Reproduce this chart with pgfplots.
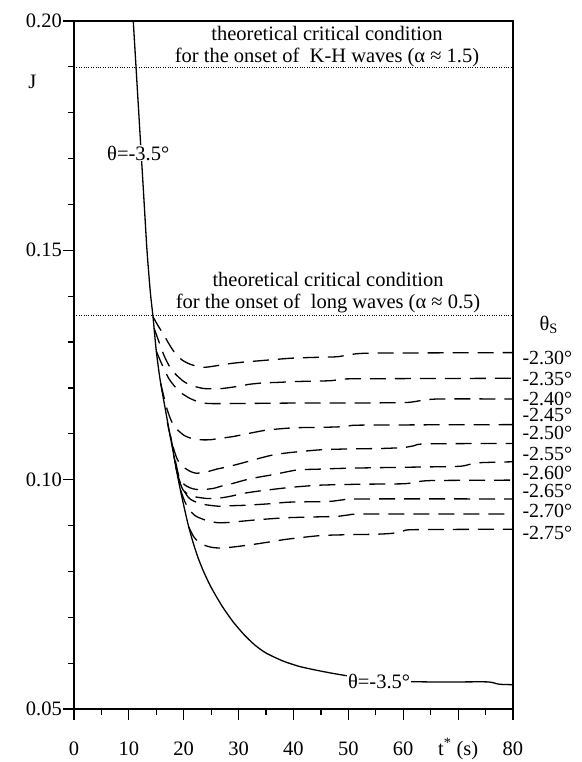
\documentclass[border=0pt]{standalone}
\usepackage{fontspec}
\setmainfont{Liberation Serif}
\usepackage{pgfplots}
\pgfplotsset{compat=1.18}
\tikzset{lbl/.style={anchor=west, inner sep=0pt, text height=13bp, text depth=0bp, font=\fontsize{20bp}{22bp}\selectfont}}
\begin{document}
\begin{tikzpicture}[font=\fontsize{20.5bp}{22bp}\selectfont]
\begin{axis}[
  at={(0,0)}, anchor=south west,
  scale only axis, width=439bp, height=688bp,
  xmin=0, xmax=80, ymin=0.05, ymax=0.20,
  xtick={0,10,...,80},
  xticklabels={0,10,20,30,40,50,60,{t\textsuperscript{*} (s)},80},
  minor xtick={5,15,...,75},
  ytick={0.05,0.10,0.15,0.20},
  yticklabels={0.05,0.10,0.15,0.20},
  minor ytick={0.06,0.07,0.08,0.09,0.11,0.12,0.13,0.14,0.16,0.17,0.18,0.19},
  tick pos=left, tick align=outside,
  major tick length=11bp, minor tick length=6bp,
  every tick/.style={black, line width=1.2bp},
  axis line style={line width=1.3bp},
  xticklabel style={text height=14bp, text depth=4bp, inner sep=0pt, yshift=-21bp},
  yticklabel style={inner sep=1bp},
  clip=false,
]
% critical condition lines
\addplot[black, line width=0.9bp, dash pattern=on 1bp off 1.4bp] coordinates {(0,0.1899) (80,0.1899)};
\addplot[black, line width=0.9bp, dash pattern=on 1bp off 1.4bp] coordinates {(0,0.1357) (80,0.1357)};
% solid curve theta = -3.5
\addplot[black, line width=1.3bp, smooth, tension=0.4] coordinates {
(10.8,0.200)(11.3,0.190)(11.8,0.180)(12.3,0.170)(12.8,0.160)(13.3,0.150)(13.9,0.1410)(14.4,0.1355)
(15.0,0.1280)(15.7,0.1217)(16.5,0.1163)(17.3,0.1110)(18.2,0.1052)(19.0,0.1000)(19.9,0.0949)
(20.8,0.0902)(21.7,0.0863)(22.6,0.0830)(23.6,0.0800)(25.0,0.0765)(27,0.0724)(29,0.0690)(31,0.0662)(33,0.0639)(35,0.0622)
(38,0.0605)(41,0.0593)(44,0.0585)(47,0.0578)(50,0.0572)(53,0.0567)(56,0.0563)(60,0.0560)
(65,0.0559)(70,0.0559)(75.5,0.0559)(77.5,0.0554)(80,0.0553)};
% dashed curves theta_s
\pgfplotsset{dsh/.style={black, line width=1.3bp, dash pattern=on 16bp off 9bp, smooth, tension=0.4}}
\addplot[dsh] coordinates {(14.4,0.1355)(15.3,0.1336)(16.3,0.1317)(17.5,0.1292)(18.6,0.1273)(19.8,0.1260)(21.1,0.1252)(22.5,0.1247)(23.9,0.1245)(26.3,0.1249)(28.4,0.1253)(31.4,0.1257)(33.6,0.1259)(36.6,0.1262)(39.9,0.1265)(45,0.1267)(48,0.1268)(50,0.1272)(52,0.1275)(56,0.1276)(80,0.1277)};
\addplot[dsh] coordinates {(14.6,0.1330)(15.5,0.1300)(16.5,0.1268)(17.5,0.1245)(18.5,0.1230)(20,0.1214)(21.5,0.1205)(23.5,0.1199)(25.4,0.1198)(27.2,0.1199)(30.2,0.1204)(32,0.1208)(34.5,0.1211)(37,0.1212)(40.6,0.1214)(44.8,0.1215)(47,0.1216)(49,0.1219)(52,0.1220)(80,0.1221)};
\addplot[dsh] coordinates {(15.0,0.1280)(16.0,0.1252)(17.2,0.1222)(18.3,0.1204)(19.3,0.1191)(21,0.1178)(22.6,0.1170)(24.5,0.1166)(30,0.1166)(40,0.1167)(50,0.1167)(60,0.1168)(62,0.1170)(64,0.1174)(67,0.1176)(80,0.1176)};
\addplot[dsh] coordinates {(15.8,0.1210)(16.8,0.1160)(17.6,0.1132)(18.4,0.1114)(20,0.1097)(21.4,0.1090)(23,0.1087)(24.8,0.1087)(26.6,0.1090)(29,0.1094)(31.5,0.1100)(35.1,0.1108)(39.9,0.1113)(44.8,0.1114)(48,0.1115)(50,0.1117)(53,0.1119)(80,0.1120)};
\addplot[dsh] coordinates {(17.0,0.1125)(17.8,0.1082)(18.8,0.1045)(19.9,0.1028)(21.2,0.1018)(22.3,0.1014)(24.2,0.1017)(26,0.1023)(27.2,0.1026)(29.3,0.1032)(31.5,0.1039)(33.6,0.1046)(36.3,0.1054)(39.3,0.1059)(44.8,0.1065)(50,0.1067)(56,0.1068)(60,0.1070)(62,0.1074)(64,0.1078)(80,0.1079)};
\addplot[dsh] coordinates {(17.6,0.1095)(18.5,0.1040)(19.3,0.1000)(20.5,0.0986)(21.7,0.0980)(23.2,0.0978)(25.4,0.0981)(26.9,0.0986)(29,0.0992)(32.1,0.1002)(36.3,0.1011)(40.6,0.1021)(44.8,0.1023)(50,0.1025)(60,0.1027)(70,0.1029)(72,0.1033)(74,0.1037)(80,0.1039)};
\addplot[dsh] coordinates {(18.2,0.1052)(19.0,0.1005)(19.9,0.0977)(21,0.0967)(22.3,0.0962)(24.2,0.0959)(25.4,0.0959)(27.2,0.0961)(29,0.0965)(30.8,0.0970)(33.6,0.0975)(39.3,0.0983)(44.8,0.0988)(52,0.0990)(60,0.0991)(62,0.0994)(65,0.0998)(80,0.0999)};
\addplot[dsh] coordinates {(18.6,0.1025)(19.5,0.0988)(20.8,0.0962)(21.7,0.0954)(23.2,0.0947)(24.8,0.0944)(26.5,0.0942)(28.1,0.0943)(30.8,0.0944)(35.1,0.0947)(39.3,0.0951)(44.8,0.0952)(47,0.0953)(49,0.0956)(52,0.0958)(80,0.0958)};
\addplot[dsh] coordinates {(19.4,0.0978)(20.2,0.0952)(21,0.0935)(22,0.0922)(23,0.0916)(24.2,0.0911)(25.7,0.0907)(26.6,0.0906)(28.7,0.0907)(30.2,0.0909)(33.9,0.0913)(38.7,0.0917)(44.8,0.0919)(48,0.0920)(50,0.0923)(53,0.0925)(80,0.0925)};
\addplot[dsh] coordinates {(20.9,0.0897)(21.8,0.0876)(22.8,0.0863)(24.0,0.0856)(25.3,0.0852)(26.6,0.0851)(28,0.0852)(29.6,0.0854)(33.9,0.0861)(38.7,0.0870)(44.8,0.0878)(50,0.0880)(55,0.0881)(58,0.0883)(60,0.0888)(62,0.0891)(80,0.0892)};
% labels
\node[fill=white, inner sep=1bp] at (axis cs:11.7,0.1712) {θ=-3.5°};
\node[fill=white, inner sep=1bp] at (axis cs:55.6,0.0561) {θ=-3.5°};
\node at (axis cs:-7.6,0.1867) {J};
\node[align=center, inner sep=0pt, anchor=south] at (axis cs:46.1,0.1900) {theoretical critical condition\\for the onset of \ K-H waves (α ≈ 1.5)};
\node[align=center, inner sep=0pt, anchor=south] at (axis cs:46.3,0.1364) {theoretical critical condition\\for the onset of \ long waves (α ≈ 0.5)};
\node at (axis cs:86.5,0.1337) {θ\textsubscript{S}};
\node[lbl] at (axis cs:81.7,0.12653) {-2.30°};
\node[lbl] at (axis cs:81.7,0.12195) {-2.35°};
\node[lbl] at (axis cs:81.7,0.11759) {-2.40°};
\node[lbl] at (axis cs:81.7,0.11410) {-2.45°};
\node[lbl] at (axis cs:81.7,0.11020) {-2.50°};
\node[lbl] at (axis cs:81.7,0.10560) {-2.55°};
\node[lbl] at (axis cs:81.7,0.10146) {-2.60°};
\node[lbl] at (axis cs:81.7,0.09754) {-2.65°};
\node[lbl] at (axis cs:81.7,0.09318) {-2.70°};
\node[lbl] at (axis cs:81.7,0.08838) {-2.75°};
\end{axis}
\pgfresetboundingbox
\path (-74bp,-53bp) rectangle (508bp,709bp);
\end{tikzpicture}
\end{document}
